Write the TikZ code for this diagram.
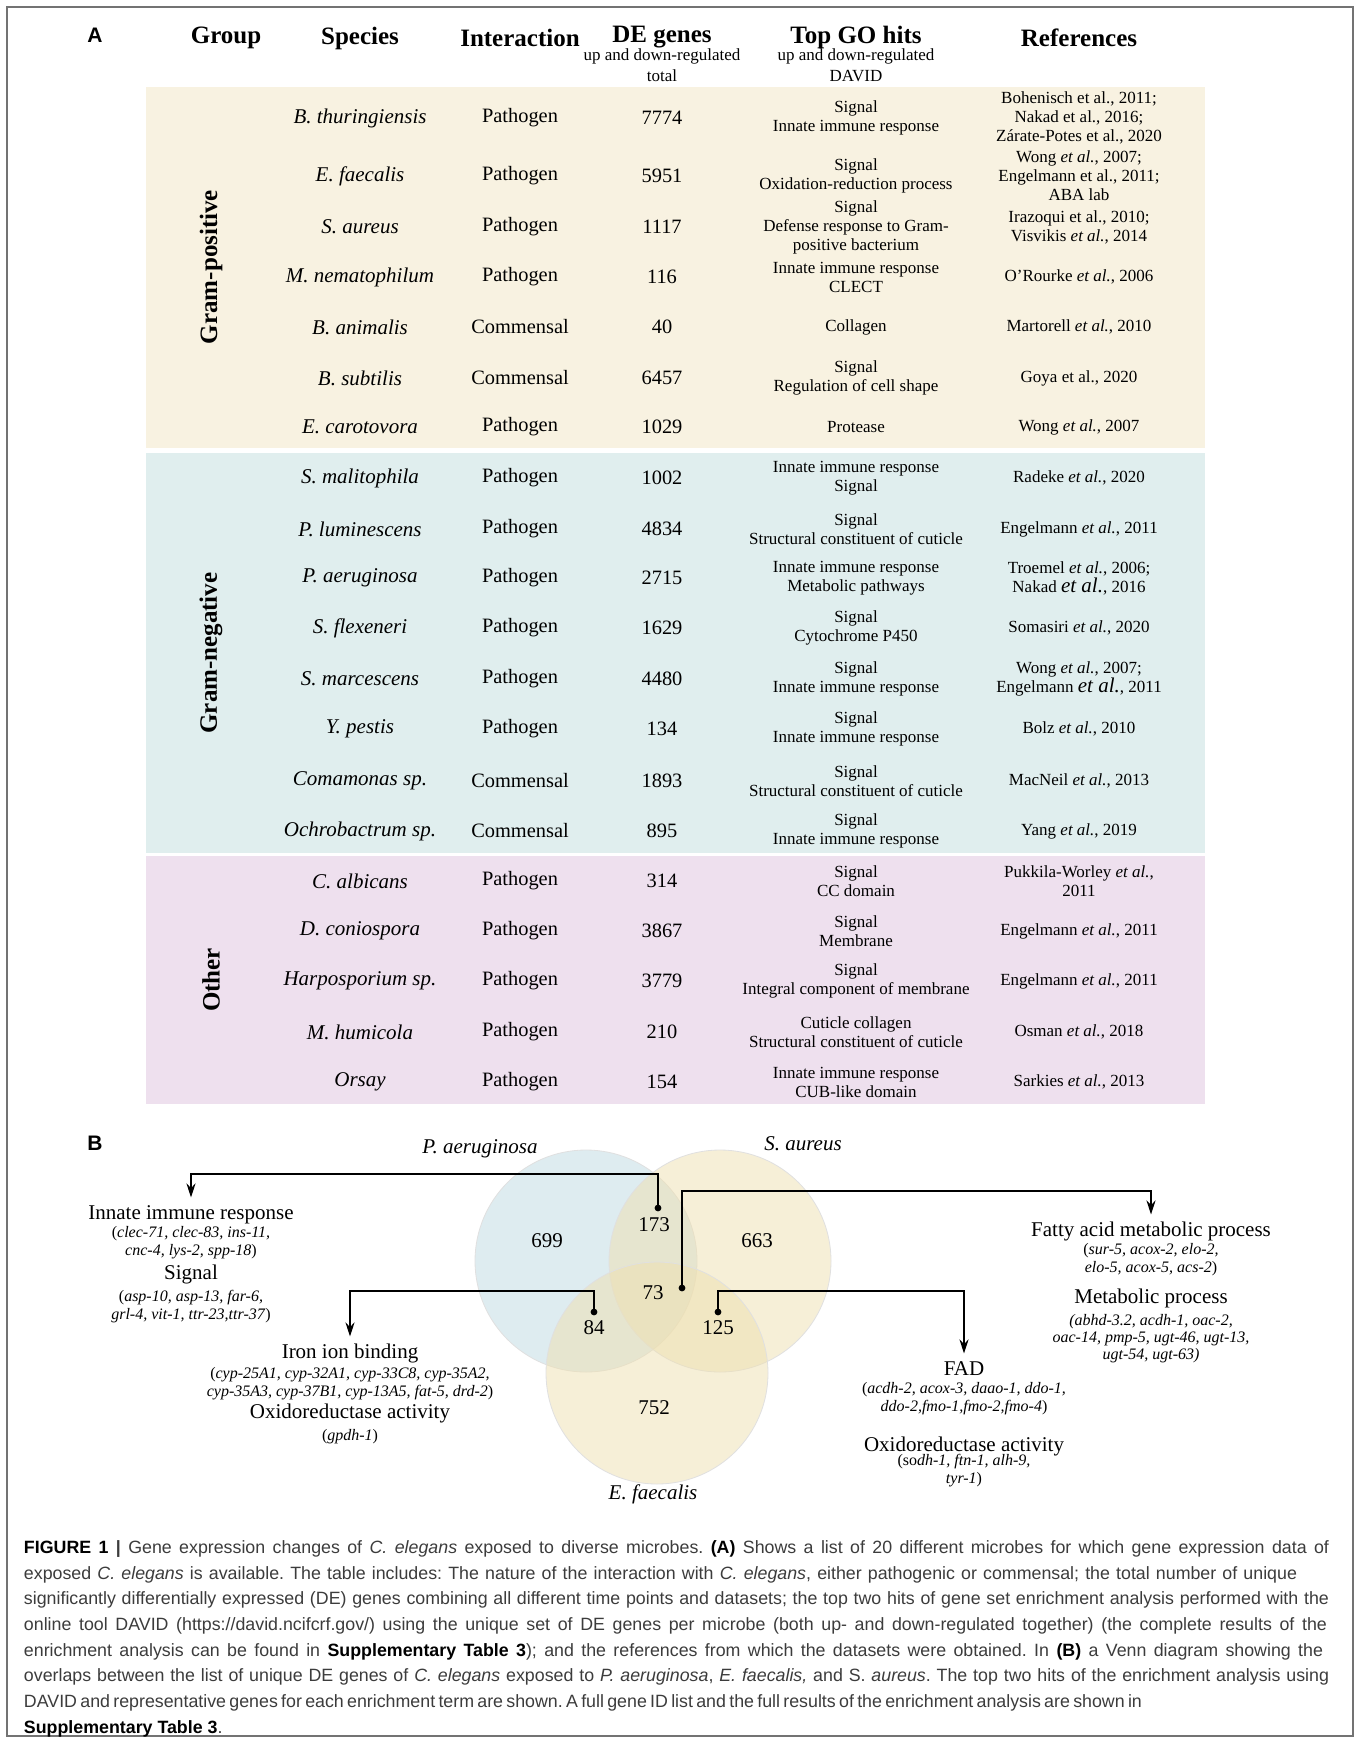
\documentclass[tikz,border=0pt]{standalone}
\usepackage{fontspec}
\setmainfont{Liberation Serif}
\newfontfamily\capfont{Liberation Sans}
\usetikzlibrary{arrows.meta}
\definecolor{bandY}{RGB}{248,242,225}
\definecolor{bandT}{RGB}{224,238,238}
\definecolor{bandP}{RGB}{238,224,238}
\definecolor{vennT}{RGB}{190,218,226}
\definecolor{vennY}{RGB}{238,224,176}
\definecolor{captext}{RGB}{60,60,60}
\newcommand\bigetal{{\fontsize{10.5}{9.5}\selectfont\itshape et al.}}
\newcommand\trow[7]{%
  \node[cell,font=\fontsize{10.5}{11}\selectfont\itshape] (sp#2) at (360,#1) {#3};
  \node[cell] (in#2) at (520,#1) {#4};
  \node[cell] (de#2) at (662,#1) {#5};
  \node[small] (go#2) at (856,#1) {#6};
  \node[small] (rf#2) at (1079,#1) {#7};}
\begin{document}
\frenchspacing
\begin{tikzpicture}[x=0.5pt,y=-0.5pt,
  every node/.style={inner sep=0pt, outer sep=0pt},
  hdr/.style={font=\fontsize{12.5}{14}\selectfont\bfseries},
  sub/.style={font=\fontsize{8.5}{9.5}\selectfont},
  cell/.style={font=\fontsize{10.2}{11}\selectfont},
  small/.style={align=center, font=\fontsize{8.5}{9.5}\selectfont},
  grp/.style={rotate=90, font=\fontsize{12.5}{14}\selectfont\bfseries},
  panel/.style={font=\capfont\fontsize{10.5}{12}\selectfont\bfseries},
  vnum/.style={font=\fontsize{10.5}{12}\selectfont},
  vlab/.style={font=\fontsize{10.5}{12}\selectfont\itshape},
  term/.style={font=\fontsize{10.5}{12}\selectfont, text height=7.2pt, text depth=2.3pt},
  genes/.style={align=center, font=\fontsize{8}{9}\selectfont},
  vcirc/.style={circle, minimum size=111pt, fill opacity=0.5, draw=black!12, draw opacity=1},
  conn/.style={line width=1pt, -{Stealth[length=7pt,width=4.5pt]}},
  capline/.style={anchor=west, font=\capfont\fontsize{8.9}{10}\selectfont, text=captext}
]
\useasboundingbox (0,0) rectangle (1360,1743);
\fill[white] (0,0) rectangle (1360,1743);
\draw[black!55, line width=0.6pt] (7,7) rectangle (1353,1736);

% ---------- panel A ----------
\node[panel] (pA) at (95,35) {A};
\node[hdr] (hGroup) at (226,38) {Group};
\node[hdr] (hSpecies) at (360,38) {Species};
\node[hdr] (hInter) at (520,38) {Interaction};
\node[hdr] (hDE) at (662,37) {DE genes};
\node[hdr] (hGO) at (856,37) {Top GO hits};
\node[hdr] (hRef) at (1079,38) {References};
\node[sub] (sDE1) at (662,56) {up and down-regulated};
\node[sub] (sDE2) at (662,76) {total};
\node[sub] (sGO1) at (856,56) {up and down-regulated};
\node[sub] (sGO2) at (856,76) {DAVID};

\fill[bandY] (146,87) rectangle (1205,448);
\fill[bandT] (146,453) rectangle (1205,853);
\fill[bandP] (146,856) rectangle (1205,1104);

\node[grp] (gPos) at (211,267) {Gram-positive};
\node[grp] (gNeg) at (211,653) {Gram-negative};
\node[grp] (gOth) at (211,980) {Other};

\trow{118}{1}{B. thuringiensis}{Pathogen}{7774}{Signal\\Innate immune response}{Bohenisch et al., 2011;\\Nakad et al., 2016;\\Zárate-Potes et al., 2020}
\trow{176}{2}{E. faecalis}{Pathogen}{5951}{Signal\\Oxidation-reduction process}{Wong \textit{et al.}, 2007;\\Engelmann et al., 2011;\\ABA lab}
\trow{227}{3}{S. aureus}{Pathogen}{1117}{Signal\\Defense response to Gram-\\positive bacterium}{Irazoqui et al., 2010;\\Visvikis \textit{et al.}, 2014}
\trow{277}{4}{M. nematophilum}{Pathogen}{116}{Innate immune response\\CLECT}{O'Rourke \textit{et al.}, 2006}
\trow{327}{5}{B. animalis}{Commensal}{40}{Collagen}{Martorell \textit{et al.}, 2010}
\trow{378}{6}{B. subtilis}{Commensal}{6457}{Signal\\Regulation of cell shape}{Goya et al., 2020}
\trow{427}{7}{E. carotovora}{Pathogen}{1029}{Protease}{Wong \textit{et al.}, 2007}
\trow{478}{8}{S. malitophila}{Pathogen}{1002}{Innate immune response\\Signal}{Radeke \textit{et al.}, 2020}
\trow{529}{9}{P. luminescens}{Pathogen}{4834}{Signal\\Structural constituent of cuticle}{Engelmann \textit{et al.}, 2011}
\trow{578}{10}{P. aeruginosa}{Pathogen}{2715}{Innate immune response\\Metabolic pathways}{Troemel \textit{et al.}, 2006;\\Nakad \bigetal, 2016}
\trow{628}{11}{S. flexeneri}{Pathogen}{1629}{Signal\\Cytochrome P450}{Somasiri \textit{et al.}, 2020}
\trow{679}{12}{S. marcescens}{Pathogen}{4480}{Signal\\Innate immune response}{Wong \textit{et al.}, 2007;\\Engelmann \bigetal, 2011}
\trow{729}{13}{Y. pestis}{Pathogen}{134}{Signal\\Innate immune response}{Bolz \textit{et al.}, 2010}
\trow{781}{14}{Comamonas sp.}{Commensal}{1893}{Signal\\Structural constituent of cuticle}{MacNeil \textit{et al.}, 2013}
\trow{831}{15}{Ochrobactrum sp.}{Commensal}{895}{Signal\\Innate immune response}{Yang \textit{et al.}, 2019}
\trow{881}{16}{C. albicans}{Pathogen}{314}{Signal\\CC domain}{Pukkila-Worley \textit{et al.},\\2011}
\trow{931}{17}{D. coniospora}{Pathogen}{3867}{Signal\\Membrane}{Engelmann \textit{et al.}, 2011}
\trow{981}{18}{Harposporium sp.}{Pathogen}{3779}{Signal\\Integral component of membrane}{Engelmann \textit{et al.}, 2011}
\trow{1032}{19}{M. humicola}{Pathogen}{210}{Cuticle collagen\\Structural constituent of cuticle}{Osman \textit{et al.}, 2018}
\trow{1082}{20}{Orsay}{Pathogen}{154}{Innate immune response\\CUB-like domain}{Sarkies \textit{et al.}, 2013}

% ---------- panel B ----------
\node[panel] (pB) at (95,1143) {B};
\node[vcirc, fill=vennT] (cP) at (586,1261) {};
\node[vcirc, fill=vennY] (cS) at (720,1261) {};
\node[vcirc, fill=vennY] (cE) at (657,1373) {};
\node[vlab] (lP) at (480,1149) {P. aeruginosa};
\node[vlab] (lS) at (803,1144) {S. aureus};
\node[vlab] (lE) at (653,1494) {E. faecalis};

\node[vnum] (n699) at (547,1241) {699};
\node[vnum] (n173) at (654,1225) {173};
\node[vnum] (n663) at (757,1241) {663};
\node[vnum] (n73) at (653,1293) {73};
\node[vnum] (n84) at (594,1328) {84};
\node[vnum] (n125) at (718,1328) {125};
\node[vnum] (n752) at (654,1408) {752};

% left block
\node[term] (tInnate) at (191,1215) {Innate immune response};
\node[genes] (gInnate) at (191,1243) {(\textit{clec-71, clec-83, ins-11,}\\\textit{cnc-4, lys-2, spp-18})};
\node[term] (tSignal) at (191,1275) {Signal};
\node[genes] (gSignal) at (191,1307) {(\textit{asp-10, asp-13, far-6,}\\\textit{grl-4, vit-1, ttr-23,ttr-37})};
% iron block
\node[term] (tIron) at (350,1354) {Iron ion binding};
\node[genes] (gIron) at (350,1384) {(\textit{cyp-25A1, cyp-32A1, cyp-33C8, cyp-35A2,}\\\textit{cyp-35A3, cyp-37B1, cyp-13A5, fat-5, drd-2})};
\node[term] (tOxL) at (350,1414) {Oxidoreductase activity};
\node[genes] (gOxL) at (350,1437) {(\textit{gpdh-1})};
% fatty block
\node[term] (tFatty) at (1151,1232) {Fatty acid metabolic process};
\node[genes] (gFatty) at (1151,1260) {(\textit{sur-5, acox-2, elo-2,}\\\textit{elo-5, acox-5, acs-2})};
\node[term] (tMeta) at (1151,1299) {Metabolic process};
\node[genes, font=\fontsize{8}{8.5}\selectfont\itshape] (gMeta) at (1151,1339) {(abhd-3.2, acdh-1, oac-2,\\oac-14, pmp-5, ugt-46, ugt-13,\\ugt-54, ugt-63)};
% FAD block
\node[term] (tFAD) at (964,1371) {FAD};
\node[genes] (gFAD) at (964,1399) {(\textit{acdh-2, acox-3, daao-1, ddo-1,}\\\textit{ddo-2,fmo-1,fmo-2,fmo-4})};
\node[term] (tOxR) at (964,1447) {Oxidoreductase activity};
\node[genes] (gOxR) at (964,1471) {(so\textit{dh-1, ftn-1, alh-9,}\\\textit{tyr-1})};

% connectors
\coordinate (d173) at (658,1208);
\coordinate (d73) at (682,1288);
\coordinate (d84) at (594,1312);
\coordinate (d125) at (718,1312);
\foreach \d in {d173,d73,d84,d125} \fill (\d) circle[radius=1.7pt];
\draw[conn] (d173) -- ++(0,-34) -| ([yshift=4pt]tInnate.north);
\draw[conn] (d73) -- ++(0,-97) -| ([yshift=4pt]tFatty.north);
\draw[conn] (d84) -- ++(0,-21) -| ([yshift=4pt]tIron.north);
\draw[conn] (d125) -- ++(0,-21) -| ([yshift=4pt]tFAD.north);

% ---------- caption ----------
\node[capline] (c1) at (24,1549) {\makebox[652.5pt][s]{{\color{black}\bfseries FIGURE 1} {\bfseries |} Gene expression changes of \textit{C. elegans} exposed to diverse microbes. {\color{black}\bfseries (A)} Shows a list of 20 different microbes for which gene expression data of}};
\node[capline] (c2) at (24,1575) {\makebox[636.5pt][s]{exposed \textit{C. elegans} is available. The table includes: The nature of the interaction with \textit{C. elegans}, either pathogenic or commensal; the total number of unique}};
\node[capline] (c3) at (24,1600) {\makebox[652.5pt][s]{significantly differentially expressed (DE) genes combining all different time points and datasets; the top two hits of gene set enrichment analysis performed with the}};
\node[capline] (c4) at (24,1626) {\makebox[651.5pt][s]{online tool DAVID (https://david.ncifcrf.gov/) using the unique set of DE genes per microbe (both up- and down-regulated together) (the complete results of the}};
\node[capline] (c5) at (24,1652) {\makebox[649.5pt][s]{enrichment analysis can be found in {\color{black}\bfseries Supplementary Table 3}); and the references from which the datasets were obtained. In {\color{black}\bfseries (B)} a Venn diagram showing the}};
\node[capline] (c6) at (24,1677) {\makebox[652.5pt][s]{overlaps between the list of unique DE genes of \textit{C. elegans} exposed to \textit{P. aeruginosa}, \textit{E. faecalis,} and S. \textit{aureus}. The top two hits of the enrichment analysis using}};
\node[capline] (c7) at (24,1703) {\makebox[553.5pt][s]{DAVID and representative genes for each enrichment term are shown. A full gene ID list and the full results of the enrichment analysis are shown in}};
\node[capline] (c8) at (24,1729) {{\color{black}\bfseries Supplementary Table 3}.};
\end{tikzpicture}
\end{document}
